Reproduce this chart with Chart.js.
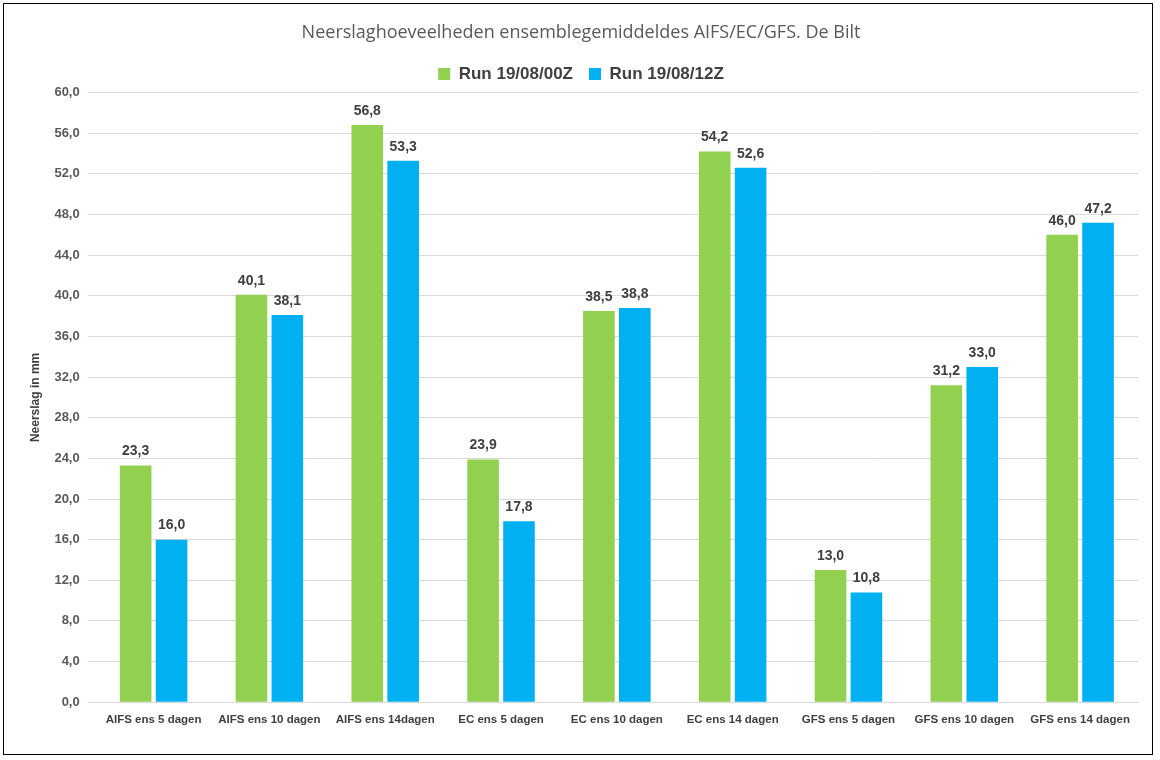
<!DOCTYPE html>
<html><head><meta charset="utf-8">
<script src="https://cdn.jsdelivr.net/npm/chart.js@4"></script>
<style>
html,body{margin:0;padding:0;background:#fff;}
#wrap{position:absolute;left:3px;top:3px;width:1150px;height:752px;border:1.5px solid #000;box-sizing:border-box;}
</style></head><body>
<div id="wrap"><canvas id="c"></canvas></div>
<script>
const categories=["AIFS ens 5 dagen","AIFS ens 10 dagen","AIFS ens 14dagen","EC ens 5 dagen","EC ens 10 dagen","EC ens 14 dagen","GFS ens 5 dagen","GFS ens 10 dagen","GFS ens 14 dagen"];
const run00=[23.3,40.1,56.8,23.9,38.5,54.2,13.0,31.2,46.0];
const run12=[16.0,38.1,53.3,17.8,38.8,52.6,10.8,33.0,47.2];
const fmt=v=>v.toFixed(1).replace('.',',');
const labelPlugin={id:'lbl',afterDatasetsDraw(ch){const c=ch.ctx;c.save();c.font='bold 14px "Liberation Sans", Arial';c.fillStyle='#404040';c.textAlign='center';c.textBaseline='bottom';
ch.data.datasets.forEach((d,i)=>{ch.getDatasetMeta(i).data.forEach((b,j)=>{c.fillText(fmt(d.data[j]),b.x,b.y-7);});});c.restore();}};
new Chart(document.getElementById('c'),{type:'bar',
data:{labels:categories,datasets:[
{label:'Run 19/08/00Z',data:run00,backgroundColor:'#92D050'},
{label:'Run 19/08/12Z',data:run12,backgroundColor:'#00B0F0'}]},
options:{responsive:true,maintainAspectRatio:false,animation:false,
layout:{padding:{left:20,right:14,top:10,bottom:24}},
datasets:{bar:{categoryPercentage:0.62,barPercentage:0.88}},
plugins:{title:{display:true,text:'Neerslaghoeveelheden ensemblegemiddeldes AIFS/EC/GFS. De Bilt',color:'#595959',font:{family:'"Open Sans", Arial',size:18,weight:'normal'},padding:{top:8,bottom:6}},
legend:{labels:{boxWidth:12,boxHeight:12,color:'#404040',font:{family:'"Liberation Sans", Arial',size:17,weight:'bold'},padding:16}},tooltip:{enabled:false}},
scales:{x:{grid:{display:false},border:{color:'#d9d9d9'},ticks:{color:'#404040',font:{family:'"Liberation Sans", Arial',size:11.5,weight:'bold'}}},
y:{min:0,max:60,ticks:{stepSize:4,callback:v=>fmt(v),color:'#595959',padding:8,font:{family:'"Liberation Sans", Arial',size:13,weight:'bold'}},grid:{color:'#d9d9d9'},border:{display:false},
title:{display:true,text:'Neerslag in mm',color:'#404040',font:{family:'"Liberation Sans", Arial',size:12,weight:'bold'}}}}},
plugins:[labelPlugin]});
</script></body></html>
